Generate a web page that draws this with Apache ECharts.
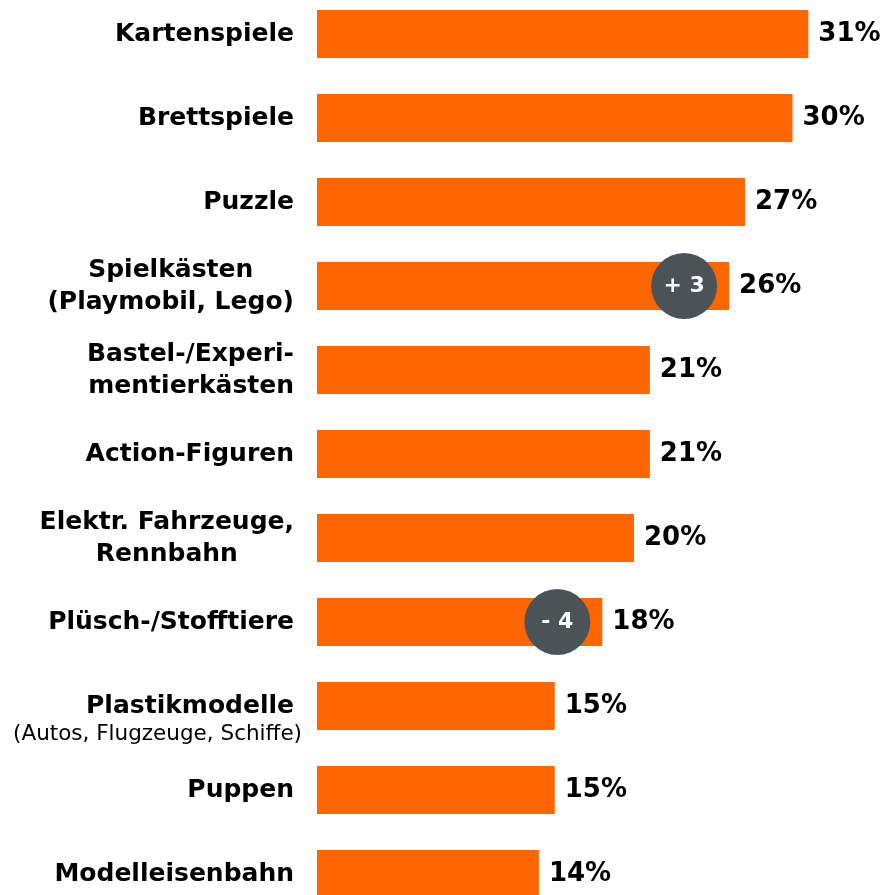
<!DOCTYPE html>
<html>
<head>
<meta charset="utf-8">
<script src="https://cdn.jsdelivr.net/npm/echarts@6/dist/echarts.min.js"></script>
<style>
html,body{margin:0;padding:0;background:#fff;overflow:hidden;width:888px;height:895px;}
#chart{position:absolute;left:0;top:-8.5px;width:888px;height:924px;}
</style>
</head>
<body>
<div id="chart"></div>
<script>
const categories = [
  'Kartenspiele',
  'Brettspiele',
  'Puzzle',
  'Spielkästen\n(Playmobil, Lego)',
  'Bastel-/Experi-\nmentierkästen',
  'Action-Figuren',
  'Elektr. Fahrzeuge,\nRennbahn',
  'Plüsch-/Stofftiere',
  'Plastikmodelle\n(Autos, Flugzeuge, Schiffe)',
  'Puppen',
  'Modelleisenbahn'
];
const values = [31, 30, 27, 26, 21, 21, 20, 18, 15, 15, 14];
const changes = [null, null, null, 3, null, null, null, -4, null, null, null];
const centeredLabels = ['Spielkästen\n(Playmobil, Lego)', 'Elektr. Fahrzeuge,\nRennbahn'];
const smallSecondLine = ['Plastikmodelle\n(Autos, Flugzeuge, Schiffe)'];

const chart = echarts.init(document.getElementById('chart'));

const changeData = [];
changes.forEach((c, i) => {
  if (c !== null) changeData.push({ value: [values[i], i], change: c });
});

chart.setOption({
  animation: false,
  grid: { left: 317, top: 0, height: 924, width: 554.75, containLabel: false },
  xAxis: { type: 'value', min: 0, max: 35, show: false },
  yAxis: {
    type: 'category',
    inverse: true,
    data: categories,
    axisLine: { show: false },
    axisTick: { show: false },
    axisLabel: {
      margin: 15,
      align: 'right',
      formatter: function (v) {
        const lines = v.split('\n');
        if (smallSecondLine.indexOf(v) >= 0) {
          return '{e| }\n{b|' + lines[0] + '}\n{s|' + lines[1] + '}';
        }
        const tag = centeredLabels.indexOf(v) >= 0 ? 'c' : 'b';
        return lines.map(l => '{' + tag + '|' + l + '}').join('\n');
      },
      rich: {
        b: { fontFamily: 'DejaVu Sans', fontWeight: 'bold', fontSize: 25, color: '#000', lineHeight: 32, align: 'right', padding: [0, 8, 0, 0] },
        c: { fontFamily: 'DejaVu Sans', fontWeight: 'bold', fontSize: 25, color: '#000', lineHeight: 32, align: 'center', padding: [0, 8, 0, 0] },
        s: { fontFamily: 'DejaVu Sans', fontSize: 21.5, color: '#000', lineHeight: 24, align: 'right' },
        e: { fontSize: 10, lineHeight: 24 }
      }
    }
  },
  series: [
    {
      type: 'bar',
      data: values,
      barWidth: 48,
      itemStyle: { color: '#FF6600' },
      label: {
        show: true,
        position: 'right',
        distance: 10,
        formatter: '{c}%',
        fontFamily: 'DejaVu Sans',
        fontWeight: 'bold',
        fontSize: 26,
        color: '#000'
      },
      z: 2
    },
    {
      type: 'scatter',
      data: changeData,
      symbol: 'circle',
      symbolSize: 66,
      symbolOffset: [-45, 0],
      itemStyle: { color: '#4A5458', opacity: 1 },
      label: {
        show: true,
        position: 'inside',
        formatter: function (p) {
          const c = p.data.change;
          return (c > 0 ? '+ ' : '- ') + Math.abs(c);
        },
        fontFamily: 'DejaVu Sans',
        fontWeight: 'bold',
        fontSize: 22,
        color: '#fff'
      },
      z: 5
    }
  ]
});
</script>
</body>
</html>
